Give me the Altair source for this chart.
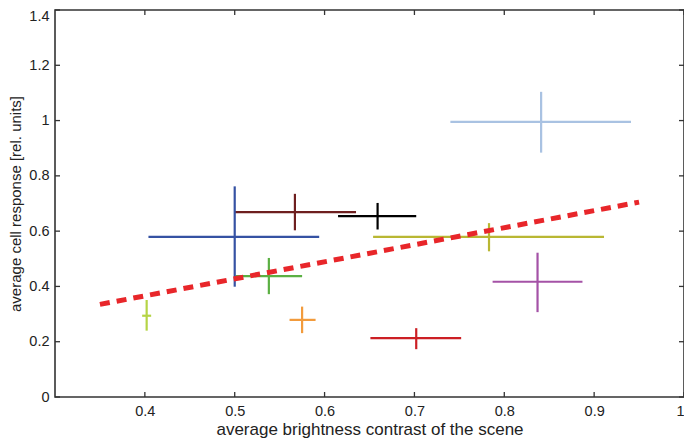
import altair as alt
import pandas as pd

# ---- data ----
names    = ["light blue", "blue", "maroon", "black", "olive", "green", "yellow green", "orange", "purple", "red"]
x_center = [0.841, 0.500, 0.567, 0.659, 0.783, 0.538, 0.402, 0.575, 0.837, 0.702]
x_low    = [0.740, 0.404, 0.500, 0.615, 0.654, 0.501, 0.397, 0.561, 0.787, 0.651]
x_high   = [0.941, 0.594, 0.635, 0.702, 0.911, 0.575, 0.407, 0.590, 0.887, 0.752]
y_center = [0.995, 0.579, 0.669, 0.654, 0.579, 0.437, 0.294, 0.279, 0.417, 0.213]
y_low    = [0.884, 0.399, 0.603, 0.606, 0.527, 0.372, 0.240, 0.231, 0.307, 0.173]
y_high   = [1.104, 0.762, 0.735, 0.702, 0.629, 0.503, 0.351, 0.327, 0.522, 0.249]
colors   = ["#a9c2e2", "#3552a3", "#6e1f1f", "#000000", "#b9b733", "#5bb043",
            "#b5d445", "#f29b3c", "#a452a6", "#cc1f24"]

fit_x = [0.35, 0.95]
fit_y = [0.335, 0.705]

x_ticks = [0.4, 0.5, 0.6, 0.7, 0.8, 0.9, 1.0]
y_ticks = [0, 0.2, 0.4, 0.6, 0.8, 1.0, 1.2, 1.4]

W, H = 629, 387
FONT = "Liberation Sans"

df = pd.DataFrame({"name": names, "xc": x_center, "xlo": x_low, "xhi": x_high,
                   "yc": y_center, "ylo": y_low, "yhi": y_high})
fit = pd.DataFrame({"x": fit_x, "y": fit_y})
xt = pd.DataFrame({"v": x_ticks})
yt = pd.DataFrame({"v": y_ticks})

xscale = alt.Scale(domain=[0.3, 1.0], nice=False, zero=False)
yscale = alt.Scale(domain=[0, 1.4], nice=False)
cscale = alt.Scale(domain=names, range=colors)

xaxis = alt.Axis(values=x_ticks, format="~g", ticks=False, domain=False, grid=False,
                 labelPadding=7, titlePadding=4, titleFontSize=17,
                 labelAlign={"condition": {"test": "datum.value == 1", "value": "right"}, "value": "center"},
                 title="average brightness contrast of the scene")
yaxis = alt.Axis(values=y_ticks, format="~g", ticks=False, domain=False, grid=False,
                 labelPadding=6, titlePadding=5, titleFontSize=15,
                 labelOffset={"condition": {"test": "datum.value == 1.4", "value": 6}, "value": 0},
                 title="average cell response [rel. units]")

horiz = alt.Chart(df).mark_rule(strokeWidth=2.2).encode(
    x=alt.X("xlo:Q", scale=xscale, axis=xaxis),
    x2="xhi:Q",
    y=alt.Y("yc:Q", scale=yscale, axis=yaxis),
    color=alt.Color("name:N", scale=cscale, legend=None),
)
vert = alt.Chart(df).mark_rule(strokeWidth=2.2).encode(
    x=alt.X("xc:Q", scale=xscale),
    y=alt.Y("ylo:Q", scale=yscale),
    y2="yhi:Q",
    color=alt.Color("name:N", scale=cscale, legend=None),
)
line = alt.Chart(fit).mark_line(color="#e8262a", strokeWidth=5, strokeDash=[10, 7]).encode(
    x=alt.X("x:Q", scale=xscale),
    y=alt.Y("y:Q", scale=yscale),
)

tick_style = dict(color="#333333", strokeWidth=1.3)
ytick_l = alt.Chart(yt).mark_rule(**tick_style).encode(
    y=alt.Y("v:Q", scale=yscale), x=alt.value(0), x2=alt.value(5))
ytick_r = alt.Chart(yt).mark_rule(**tick_style).encode(
    y=alt.Y("v:Q", scale=yscale), x=alt.value(W - 5), x2=alt.value(W))
xtick_b = alt.Chart(xt).mark_rule(**tick_style).encode(
    x=alt.X("v:Q", scale=xscale), y=alt.value(H - 5), y2=alt.value(H))
xtick_t = alt.Chart(xt).mark_rule(**tick_style).encode(
    x=alt.X("v:Q", scale=xscale), y=alt.value(0), y2=alt.value(5))

chart = alt.layer(horiz, vert, line, ytick_l, ytick_r, xtick_b, xtick_t).properties(
    width=W, height=H,
    autosize=alt.AutoSizeParams(type="none"),
    padding={"left": 47, "top": 2, "right": 0, "bottom": 42},
).configure_view(
    stroke="#333333", strokeWidth=1.6
).configure_axis(
    labelFont=FONT, titleFont=FONT, labelFontSize=14.5,
    labelColor="#222222", titleColor="#222222", titleFontWeight="normal",
)

chart.save("out.html", embed_options={"renderer": "svg", "actions": False})
